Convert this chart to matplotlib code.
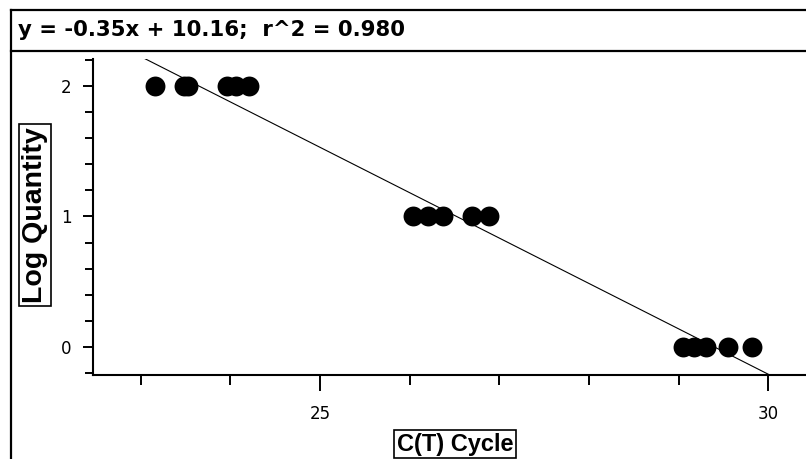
import numpy as np
import matplotlib.pyplot as plt
from matplotlib.lines import Line2D
from matplotlib.ticker import MultipleLocator, FixedLocator

# Data: C(T) cycle per replicate at each log quantity
CT_LOG2 = [23.16, 23.49, 23.53, 23.96, 24.07, 24.21]
CT_LOG1 = [26.04, 26.21, 26.37, 26.70, 26.89]
CT_LOG0 = [29.05, 29.17, 29.30, 29.55, 29.82]
LOG_LEVELS = [2, 1, 0]
FIT_TEXT = "y = -0.35x + 10.16;  r^2 = 0.980"

W, H = 806, 459


def px(x, y):
    # pixel coords (top-left origin) -> figure fraction
    return x / W, 1 - y / H


def main():
    fig = plt.figure(figsize=(W / 100, H / 100), dpi=100)

    # axes box in pixels
    left, right, top, bottom = 93, 806, 59, 375
    x0, y0 = px(left, bottom)
    ax = fig.add_axes([x0, y0, (right - left) / W, (bottom - top) / H])

    ct_sets = [CT_LOG2, CT_LOG1, CT_LOG0]
    xs = np.concatenate([np.array(c) for c in ct_sets])
    ys = np.concatenate([np.full(len(c), lv, dtype=float) for c, lv in zip(ct_sets, LOG_LEVELS)])

    # regression line, clipped by the axes
    slope, intercept = np.polyfit(xs, ys, 1)
    xl = np.array([20, 32])
    ax.plot(xl, slope * xl + intercept, color='black', linewidth=0.8)

    ax.scatter(xs, ys, s=205, color='black', zorder=3, linewidths=0)

    ax.set_xlim(22.47, 30.42)
    ax.set_ylim(-0.215, 2.207)

    for side in ['top', 'right']:
        ax.spines[side].set_visible(False)
    for side in ['left', 'bottom']:
        ax.spines[side].set_linewidth(1.5)

    ax.xaxis.set_major_locator(FixedLocator([25, 30]))
    ax.xaxis.set_minor_locator(FixedLocator([23, 24, 26, 27, 28, 29]))
    ax.yaxis.set_major_locator(FixedLocator([0, 1, 2]))
    ax.yaxis.set_minor_locator(MultipleLocator(0.2))

    ax.tick_params(axis='x', which='major', length=11.5, width=1.4, pad=10, labelsize=12)
    ax.tick_params(axis='x', which='minor', length=7, width=1.4)
    ax.tick_params(axis='y', which='major', length=7.5, width=1.4, pad=8, labelsize=12)
    ax.tick_params(axis='y', which='minor', length=6, width=1.4)

    label_font = ['Liberation Sans', 'DejaVu Sans']
    box = dict(boxstyle='square,pad=0.12', facecolor='white', edgecolor='black', linewidth=1.2)
    fx, fy = px(35, 215)
    fig.text(fx, fy, "Log Quantity", rotation=90, ha='center', va='center',
             fontsize=20.5, fontweight='bold', family=label_font, bbox=box)
    fx, fy = px(455, 444)
    fig.text(fx, fy, "C(T) Cycle", ha='center', va='center',
             fontsize=17, fontweight='bold', family=label_font, bbox=box)

    # title box and outer frame
    lw = 1.6
    fig.add_artist(Line2D([px(11, 0)[0], 1], [px(0, 10)[1]] * 2, color='black', linewidth=lw, transform=fig.transFigure))
    fig.add_artist(Line2D([px(11, 0)[0], 1], [px(0, 51)[1]] * 2, color='black', linewidth=lw, transform=fig.transFigure))
    fig.add_artist(Line2D([px(11, 0)[0]] * 2, [0, px(0, 10)[1]], color='black', linewidth=lw, transform=fig.transFigure))

    fx, fy = px(18, 30)
    fig.text(fx, fy, FIT_TEXT, ha='left', va='center', fontsize=15.3,
             fontweight='bold', family='DejaVu Sans')

    fig.savefig('out.png', dpi=100)


if __name__ == '__main__':
    main()
